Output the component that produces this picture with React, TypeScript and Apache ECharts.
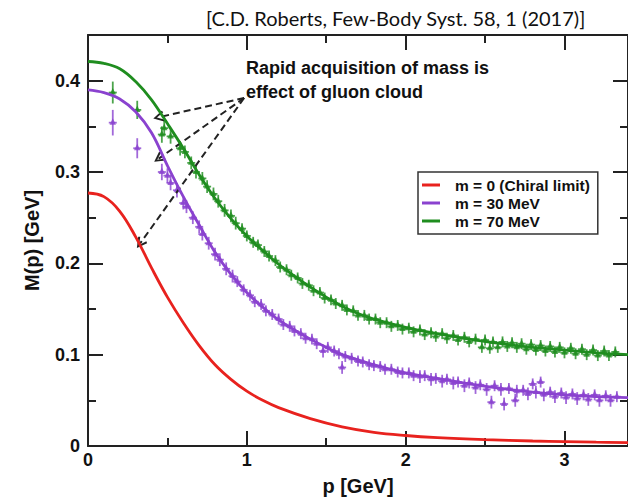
import React, { useEffect, useRef } from "react";
import * as echarts from "echarts";

// ---- data ----
const titleText = "[C.D. Roberts, Few-Body Syst. 58, 1 (2017)]";
const annotationText = "Rapid acquisition of mass is\neffect of gluon cloud";
const seriesNames = ["m = 0 (Chiral limit)", "m = 30 MeV", "m = 70 MeV"];
const xTicks = [0, 1, 2, 3];
const yTicks = [0, 0.1, 0.2, 0.3, 0.4];

// curve values [p (GeV), M (GeV)]
const curveChiral: number[][] = [
  [0, 0.277], [0.1, 0.273], [0.2, 0.257], [0.3, 0.229], [0.4, 0.195], [0.5, 0.163],
  [0.6, 0.135], [0.7, 0.11], [0.8, 0.089], [0.9, 0.073], [1.0, 0.06], [1.1, 0.05],
  [1.2, 0.042], [1.4, 0.03], [1.6, 0.021], [1.8, 0.015], [2.0, 0.0115], [2.2, 0.0092],
  [2.5, 0.007], [2.8, 0.0055], [3.0, 0.0048], [3.2, 0.0042], [3.4, 0.0038],
];
const curve30: number[][] = [
  [0, 0.39], [0.1, 0.387], [0.2, 0.38], [0.3, 0.366], [0.4, 0.343], [0.5, 0.307],
  [0.6, 0.273], [0.7, 0.242], [0.8, 0.212], [0.9, 0.188], [1.0, 0.168], [1.1, 0.152],
  [1.2, 0.138], [1.3, 0.127], [1.4, 0.117], [1.5, 0.108], [1.6, 0.1], [1.8, 0.089],
  [2.0, 0.08], [2.2, 0.074], [2.4, 0.068], [2.6, 0.063], [2.8, 0.059], [3.0, 0.056],
  [3.2, 0.054], [3.4, 0.053],
];
const curve70: number[][] = [
  [0, 0.421], [0.1, 0.419], [0.2, 0.413], [0.3, 0.399], [0.4, 0.379], [0.5, 0.353],
  [0.6, 0.326], [0.7, 0.297], [0.8, 0.271], [0.9, 0.249], [1.0, 0.23], [1.1, 0.214],
  [1.2, 0.199], [1.3, 0.186], [1.4, 0.174], [1.5, 0.163], [1.6, 0.153], [1.7, 0.145],
  [1.8, 0.139], [2.0, 0.13], [2.2, 0.123], [2.4, 0.117], [2.6, 0.112], [2.8, 0.108],
  [3.0, 0.105], [3.2, 0.102], [3.4, 0.1],
];

// lattice points [p, M, error]
const lattice30: number[][] = [
  [0.156, 0.354, 0.014], [0.31, 0.326, 0.011], [0.465, 0.3, 0.009], [0.5, 0.296, 0.008],
  [0.52, 0.288, 0.008], [0.56, 0.28, 0.008], [0.6, 0.266, 0.007], [0.62, 0.262, 0.007],
  [0.66, 0.25, 0.007], [0.7, 0.24, 0.007], [0.72, 0.232, 0.007], [0.76, 0.222, 0.007],
  [0.8, 0.21, 0.007], [0.83, 0.204, 0.007], [0.87, 0.194, 0.007], [0.91, 0.186, 0.007],
  [0.94, 0.18, 0.006], [0.98, 0.171, 0.006], [1.02, 0.165, 0.006], [1.05, 0.158, 0.006],
  [1.09, 0.155, 0.006], [1.12, 0.148, 0.006], [1.16, 0.144, 0.006], [1.2, 0.139, 0.006],
  [1.23, 0.133, 0.006], [1.27, 0.131, 0.006], [1.3, 0.126, 0.006], [1.34, 0.123, 0.006],
  [1.37, 0.118, 0.006], [1.41, 0.117, 0.006], [1.44, 0.112, 0.006], [1.48, 0.104, 0.007],
  [1.51, 0.108, 0.006], [1.55, 0.104, 0.006], [1.58, 0.101, 0.006], [1.6, 0.086, 0.007],
  [1.62, 0.098, 0.006], [1.66, 0.096, 0.006], [1.7, 0.093, 0.006], [1.73, 0.092, 0.006],
  [1.77, 0.089, 0.006], [1.8, 0.088, 0.006], [1.84, 0.087, 0.006], [1.87, 0.084, 0.006],
  [1.91, 0.084, 0.006], [1.95, 0.081, 0.006], [1.98, 0.08, 0.006], [2.02, 0.08, 0.006],
  [2.05, 0.077, 0.006], [2.09, 0.076, 0.007], [2.12, 0.077, 0.006], [2.16, 0.073, 0.007],
  [2.19, 0.074, 0.006], [2.23, 0.071, 0.007], [2.26, 0.073, 0.006], [2.3, 0.069, 0.007],
  [2.33, 0.07, 0.006], [2.37, 0.066, 0.007], [2.4, 0.069, 0.006], [2.44, 0.064, 0.007],
  [2.47, 0.067, 0.006], [2.51, 0.062, 0.007], [2.54, 0.048, 0.007], [2.56, 0.066, 0.006],
  [2.6, 0.062, 0.007], [2.62, 0.046, 0.007], [2.65, 0.063, 0.006], [2.69, 0.05, 0.007],
  [2.7, 0.06, 0.007], [2.74, 0.061, 0.006], [2.77, 0.057, 0.007], [2.8, 0.068, 0.006],
  [2.82, 0.059, 0.007], [2.85, 0.07, 0.006], [2.87, 0.056, 0.007], [2.91, 0.059, 0.006],
  [2.94, 0.054, 0.007], [2.98, 0.058, 0.006], [3.01, 0.053, 0.007], [3.05, 0.057, 0.006],
  [3.08, 0.052, 0.007], [3.12, 0.056, 0.006], [3.15, 0.051, 0.007], [3.19, 0.056, 0.006],
  [3.22, 0.05, 0.007], [3.26, 0.055, 0.006], [3.29, 0.05, 0.007], [3.33, 0.054, 0.006],
];
const lattice70: number[][] = [
  [0.156, 0.387, 0.012], [0.31, 0.368, 0.01], [0.465, 0.341, 0.009], [0.48, 0.348, 0.008],
  [0.52, 0.339, 0.008], [0.58, 0.326, 0.008], [0.61, 0.322, 0.007], [0.65, 0.31, 0.007],
  [0.68, 0.3, 0.007], [0.72, 0.293, 0.007], [0.75, 0.284, 0.007], [0.79, 0.276, 0.007],
  [0.82, 0.268, 0.007], [0.86, 0.258, 0.007], [0.9, 0.252, 0.007], [0.93, 0.244, 0.007],
  [0.97, 0.238, 0.006], [1.0, 0.23, 0.006], [1.04, 0.223, 0.006], [1.07, 0.22, 0.006],
  [1.11, 0.213, 0.006], [1.14, 0.208, 0.006], [1.18, 0.203, 0.006], [1.21, 0.196, 0.006],
  [1.25, 0.193, 0.006], [1.28, 0.187, 0.006], [1.32, 0.184, 0.006], [1.35, 0.178, 0.006],
  [1.39, 0.176, 0.006], [1.42, 0.17, 0.006], [1.46, 0.168, 0.006], [1.49, 0.162, 0.006],
  [1.53, 0.16, 0.006], [1.56, 0.156, 0.006], [1.6, 0.154, 0.006], [1.63, 0.149, 0.006],
  [1.67, 0.148, 0.006], [1.7, 0.143, 0.006], [1.74, 0.143, 0.006], [1.77, 0.139, 0.006],
  [1.81, 0.139, 0.006], [1.84, 0.135, 0.006], [1.88, 0.135, 0.006], [1.91, 0.131, 0.006],
  [1.95, 0.132, 0.006], [1.98, 0.128, 0.006], [2.02, 0.129, 0.006], [2.05, 0.125, 0.006],
  [2.09, 0.127, 0.006], [2.12, 0.122, 0.006], [2.16, 0.124, 0.006], [2.19, 0.12, 0.006],
  [2.23, 0.123, 0.006], [2.26, 0.118, 0.006], [2.3, 0.121, 0.006], [2.33, 0.116, 0.006],
  [2.37, 0.119, 0.006], [2.4, 0.114, 0.006], [2.44, 0.117, 0.006], [2.48, 0.108, 0.006],
  [2.5, 0.116, 0.006], [2.53, 0.107, 0.006], [2.55, 0.114, 0.006], [2.58, 0.108, 0.006],
  [2.61, 0.114, 0.006], [2.64, 0.109, 0.006], [2.67, 0.113, 0.006], [2.7, 0.108, 0.006],
  [2.73, 0.112, 0.006], [2.76, 0.106, 0.006], [2.79, 0.111, 0.006], [2.82, 0.105, 0.006],
  [2.85, 0.11, 0.006], [2.88, 0.104, 0.006], [2.91, 0.109, 0.006], [2.94, 0.103, 0.006],
  [2.97, 0.108, 0.006], [3.0, 0.102, 0.006], [3.04, 0.107, 0.006], [3.07, 0.101, 0.006],
  [3.11, 0.106, 0.006], [3.14, 0.1, 0.006], [3.18, 0.105, 0.006], [3.21, 0.099, 0.006],
  [3.25, 0.104, 0.006], [3.28, 0.099, 0.006], [3.32, 0.103, 0.006],
];

// annotation arrows: start and end points in data coordinates [p, M]
const arrowStart = [0.983, 0.381];
const arrowEnds: number[][] = [[0.445, 0.36], [0.445, 0.3146], [0.328, 0.2217]];

const RED = "#e8221e";
const PURPLE = "#8a42cf";
const GREEN = "#1f8d1f";
const AXIS = "#222";
const FONT = '"Liberation Sans", Arial, sans-serif';

const X_MIN = 0;
const X_MAX = 3.4;
const Y_MIN = 0;
const Y_MAX = 0.45;

function errorBarSeries(data: number[][], color: string) {
  return {
    type: "custom",
    xAxisIndex: 0,
    yAxisIndex: 0,
    z: 3,
    silent: true,
    data,
    encode: { x: 0, y: 1 },
    renderItem: (params: any, api: any) => {
      const p = api.value(0);
      const m = api.value(1);
      const e = api.value(2);
      const c = api.coord([p, m]);
      const hi = api.coord([p, m + e]);
      const lo = api.coord([p, m - e]);
      const st = { stroke: color, lineWidth: 1.8 };
      return {
        type: "group",
        children: [
          { type: "line", shape: { x1: hi[0], y1: hi[1], x2: lo[0], y2: lo[1] }, style: st },
          { type: "line", shape: { x1: c[0] - 4, y1: c[1], x2: c[0] + 4, y2: c[1] }, style: st },
          {
            type: "polygon",
            shape: { points: [[c[0], c[1] - 4.5], [c[0] - 3.2, c[1] + 2], [c[0] + 3.2, c[1] + 2]] },
            style: { fill: color },
          },
        ],
      };
    },
  };
}

function xAxisDef(position: string, interval: number, long: boolean, main: boolean) {
  return {
    type: "value",
    position,
    min: X_MIN,
    max: X_MAX,
    interval,
    axisLine: { show: long, onZero: false, lineStyle: { color: AXIS, width: 2 } },
    axisTick: { show: true, inside: true, length: long ? 15 : 8, lineStyle: { color: AXIS, width: 2 } },
    splitLine: { show: false },
    axisLabel: main
      ? {
          show: true,
          showMaxLabel: false,
          margin: 5,
          fontSize: 18,
          fontWeight: "bold",
          fontFamily: FONT,
          color: "#111",
          formatter: (v: number) => (xTicks.includes(v) ? String(v) : ""),
        }
      : { show: false },
    name: main ? "p [GeV]" : "",
    nameLocation: "middle",
    nameGap: 30,
    nameTextStyle: { fontSize: 20, fontWeight: "bold", fontFamily: FONT, color: "#111" },
  };
}

function yAxisDef(position: string, interval: number, long: boolean, main: boolean) {
  return {
    type: "value",
    position,
    min: Y_MIN,
    max: Y_MAX,
    interval,
    axisLine: { show: long, onZero: false, lineStyle: { color: AXIS, width: 2 } },
    axisTick: { show: true, inside: true, length: long ? 15 : 8, lineStyle: { color: AXIS, width: 2 } },
    splitLine: { show: false },
    axisLabel: main
      ? {
          show: true,
          showMaxLabel: false,
          margin: 8,
          fontSize: 18,
          fontWeight: "bold",
          fontFamily: FONT,
          color: "#111",
          formatter: (v: number) => {
            const t = yTicks.find((y) => Math.abs(y - v) < 1e-9);
            return t === undefined ? "" : String(t);
          },
        }
      : { show: false },
    name: main ? "M(p) [GeV]" : "",
    nameLocation: "middle",
    nameGap: 46,
    nameTextStyle: { fontSize: 20, fontWeight: "bold", fontFamily: FONT, color: "#111" },
  };
}

export default function App() {
  const ref = useRef<HTMLDivElement>(null);
  useEffect(() => {
    if (!ref.current) return;
    const chart = echarts.init(ref.current, undefined, { renderer: "svg" });
    const lineSeries = (name: string, data: number[][], color: string, extra: any = {}) => ({
      type: "line",
      name,
      data,
      xAxisIndex: 0,
      yAxisIndex: 0,
      smooth: 0.4,
      showSymbol: false,
      symbol: "none",
      z: 5,
      lineStyle: { color, width: 2.8 },
      itemStyle: { color },
      ...extra,
    });
    chart.setOption({
      animation: false,
      backgroundColor: "#fff",
      title: {
        text: titleText,
        left: 201,
        top: 3,
        textStyle: { fontFamily: "Lato, 'Open Sans', sans-serif", fontSize: 20, fontWeight: "normal", color: "#111" },
      },
      grid: { left: 88, top: 35, width: 550, height: 412 },
      xAxis: [
        xAxisDef("bottom", 1, true, true),
        xAxisDef("bottom", 0.5, false, false),
        xAxisDef("top", 1, true, false),
        xAxisDef("top", 0.5, false, false),
      ],
      yAxis: [
        yAxisDef("left", 0.1, true, true),
        yAxisDef("left", 0.05, false, false),
        yAxisDef("right", 0.1, true, false),
        yAxisDef("right", 0.05, false, false),
      ],
      legend: {
        data: seriesNames,
        orient: "vertical",
        left: 418,
        top: 172,
        padding: [5, 8, 5, 4],
        itemGap: 2,
        itemWidth: 18,
        itemHeight: 3,
        icon: "rect",
        borderColor: "#333",
        borderWidth: 1.5,
        borderRadius: 0,
        backgroundColor: "#fff",
        textStyle: { fontFamily: FONT, fontWeight: "bold", fontSize: 15.5, color: "#111", lineHeight: 16, padding: [0, 0, 0, 10] },
      },
      graphic: [
        {
          type: "text",
          left: 246,
          top: 56,
          z: 10,
          style: {
            text: annotationText,
            font: `bold 18px ${FONT}`,
            lineHeight: 24,
            fill: "#111",
          },
        },
      ],
      series: [
        errorBarSeries(lattice30, "rgba(138,66,207,0.8)"),
        errorBarSeries(lattice70, "rgba(31,141,31,0.8)"),
        lineSeries(seriesNames[0], curveChiral, RED, {
          markLine: {
            silent: true,
            symbol: ["none", "path://M5,0 L10,9 L8.4,10 L5,3.4 L1.6,10 L0,9 Z"],
            symbolSize: [11, 11],
            label: { show: false },
            lineStyle: { color: "#222", width: 2, type: [7, 4] },
            emphasis: { disabled: true },
            data: arrowEnds.map((e) => [{ coord: arrowStart }, { coord: e }]),
          },
        }),
        lineSeries(seriesNames[1], curve30, PURPLE),
        lineSeries(seriesNames[2], curve70, GREEN),
      ],
    });
    return () => chart.dispose();
  }, []);
  return <div ref={ref} style={{ position: "fixed", left: 0, top: 0, width: 628, height: 501 }} />;
}
